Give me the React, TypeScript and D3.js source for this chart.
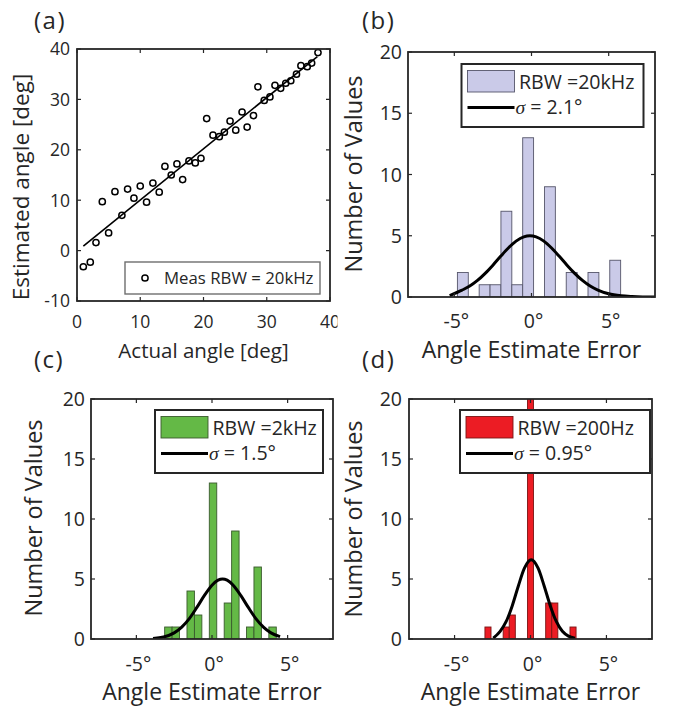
import React from 'react';
import * as d3 from 'd3';

const FONT = "'Open Sans', sans-serif";
const INK = '#262626';

// ---------- Panel (a): scatter ----------
const actualAngle = [1.0, 2.1, 3.0, 4.0, 5.0, 6.0, 7.1, 8.0, 9.0, 10.0, 11.0, 12.0, 13.0, 13.9, 14.9, 15.8, 16.7, 17.7, 18.7, 19.6, 20.5, 21.5, 22.5, 23.3, 24.2, 25.1, 26.1, 26.9, 27.9, 28.6, 29.6, 30.5, 31.3, 32.2, 33.0, 33.8, 34.7, 35.4, 36.4, 37.1, 38.1];
const estimatedAngle = [-3.2, -2.3, 1.6, 9.7, 3.5, 11.7, 7.0, 12.2, 10.4, 12.8, 9.6, 13.4, 11.6, 16.7, 15.0, 17.2, 14.1, 17.8, 17.4, 18.3, 26.2, 22.9, 22.6, 23.5, 25.7, 23.9, 27.5, 24.5, 26.8, 32.5, 29.8, 30.5, 32.8, 32.2, 33.2, 33.7, 35.0, 36.7, 36.5, 37.2, 39.3];
const fitActual = [1, 38];
const fitEstimated = [0.9, 38.5];
const scatterXTicks = [0, 10, 20, 30, 40];
const scatterYTicks = [-10, 0, 10, 20, 30, 40];
const scatterLegend = 'Meas RBW = 20kHz';

// ---------- Histograms ----------
const histXTicks = [-5, 0, 5];
const histXTickLabels = ['-5°', '0°', '5°'];
const histYTicks = [0, 5, 10, 15, 20];

const counts20kHz = [2, 0, 1, 1, 7, 1, 13, 0, 9, 0, 2, 0, 2, 0, 3];
const binStart20kHz = -4.8;
const binWidth20kHz = 0.705;
const fitX20kHz = [-5.3, -4.5, -4, -3.5, -3, -2.5, -2, -1.5, -1, -0.5, -0.1, 0.3, 0.8, 1.3, 1.8, 2.3, 2.8, 3.3, 3.8, 4.3, 5, 5.8, 6.5, 7.2, 8];
const fitY20kHz = [0.12, 0.56, 0.89, 1.35, 1.93, 2.6, 3.32, 4.0, 4.56, 4.91, 5.0, 4.91, 4.56, 4.0, 3.32, 2.6, 1.93, 1.35, 0.89, 0.56, 0.26, 0.1, 0.04, 0.01, 0.0];

const counts2kHz = [1, 1, 0, 4, 2, 0, 13, 0, 3, 9, 0, 1, 6, 0, 1];
const binStart2kHz = -3.13;
const binWidth2kHz = 0.492;
const fitX2kHz = [-3.9, -3.2, -2.5, -2, -1.5, -1, -0.5, 0, 0.4, 0.7, 1.0, 1.4, 1.9, 2.4, 2.9, 3.4, 3.9, 4.5];
const fitY2kHz = [0.05, 0.17, 0.51, 0.99, 1.7, 2.63, 3.63, 4.48, 4.9, 5.0, 4.9, 4.48, 3.63, 2.63, 1.7, 0.99, 0.51, 0.2];

const counts200Hz = [1, 0, 0, 1, 2, 0, 0, 30, 0, 0, 3, 3, 0, 0, 1];
const binStart200Hz = -3.0;
const binWidth200Hz = 0.4;
const fitX200Hz = [-2.45, -2, -1.6, -1.2, -0.8, -0.4, 0.05, 0.5, 0.9, 1.3, 1.7, 2.1, 2.5, 2.93];
const fitY200Hz = [0.08, 0.64, 1.46, 2.78, 4.42, 5.9, 6.6, 5.9, 4.42, 2.78, 1.46, 0.64, 0.24, 0.07];

const histSeries = [
  { key: 'b', label: '(b)', name: 'RBW =20kHz', sigma: '2.1°', counts: counts20kHz, start: binStart20kHz, width: binWidth20kHz, fx: fitX20kHz, fy: fitY20kHz, fill: '#cacae8', edge: '#55556a' },
  { key: 'c', label: '(c)', name: 'RBW =2kHz', sigma: '1.5°', counts: counts2kHz, start: binStart2kHz, width: binWidth2kHz, fx: fitX2kHz, fy: fitY2kHz, fill: '#64b946', edge: '#3a5a2e' },
  { key: 'd', label: '(d)', name: 'RBW =200Hz', sigma: '0.95°', counts: counts200Hz, start: binStart200Hz, width: binWidth200Hz, fx: fitX200Hz, fy: fitY200Hz, fill: '#ec1c24', edge: '#7a1414' },
];

// layout
const layoutHist: Record<string, any> = {
  b: { x0: 408, x1: 655, y0: 52, y1: 297, tickLblX: 402, xLblY: 328, yTitleX: 362, yTitleY: 174, xTitleY: 358, lblX: 362, lblY: 29,
       leg: { x: 461.5, y: 64, w: 182, h: 63 } },
  c: { x0: 91, x1: 333, y0: 399, y1: 639, tickLblX: 85, xLblY: 671, yTitleX: 42, yTitleY: 518, xTitleY: 700, lblX: 34, lblY: 368,
       leg: { x: 155, y: 410, w: 168, h: 63 } },
  d: { x0: 409, x1: 652, y0: 399, y1: 639, tickLblX: 402, xLblY: 671, yTitleX: 362, yTitleY: 519, xTitleY: 700, lblX: 362, lblY: 368,
       leg: { x: 460, y: 410, w: 190, h: 63 } },
};

function Frame({ x0, x1, y0, y1, xs, ys, xTicks, yTicks }: any) {
  const t = 4;
  return (
    <g>
      {xTicks.map((v: number) => (
        <g key={'x' + v}>
          <line x1={xs(v)} x2={xs(v)} y1={y1} y2={y1 - t} stroke={INK} strokeWidth={1.2} />
          <line x1={xs(v)} x2={xs(v)} y1={y0} y2={y0 + t} stroke={INK} strokeWidth={1.2} />
        </g>
      ))}
      {yTicks.map((v: number) => (
        <g key={'y' + v}>
          <line x1={x0} x2={x0 + t} y1={ys(v)} y2={ys(v)} stroke={INK} strokeWidth={1.2} />
          <line x1={x1} x2={x1 - t} y1={ys(v)} y2={ys(v)} stroke={INK} strokeWidth={1.2} />
        </g>
      ))}
      <rect x={x0} y={y0} width={x1 - x0} height={y1 - y0} fill="none" stroke={INK} strokeWidth={1.8} />
    </g>
  );
}

function ScatterPanel() {
  const x0 = 77, x1 = 330, y0 = 49, y1 = 301;
  const xs = d3.scaleLinear().domain([0, 40]).range([x0, x1]);
  const ys = d3.scaleLinear().domain([-10, 40]).range([y1, y0]);
  const fitLine = d3.line<number>().x((d, i) => xs(fitActual[i])).y((d) => ys(d))(fitEstimated) || '';
  return (
    <g clipPath="url(#clipA)">
      <text x={34} y={29} fontSize={24} fontFamily={FONT} fill={INK} letterSpacing={1.5}>(a)</text>
      <rect x={x0} y={y0} width={x1 - x0} height={y1 - y0} fill="#fff" />
      <path d={fitLine} stroke="#000" strokeWidth={1.6} fill="none" />
      {actualAngle.map((a, i) => (
        <circle key={i} cx={xs(a)} cy={ys(estimatedAngle[i])} r={3.1} fill="none" stroke="#000" strokeWidth={1.5} />
      ))}
      <Frame x0={x0} x1={x1} y0={y0} y1={y1} xs={xs} ys={ys} xTicks={scatterXTicks} yTicks={scatterYTicks} />
      {scatterXTicks.map((v) => (
        <text key={v} x={xs(v)} y={328} textAnchor="middle" fontSize={17.5} fontFamily={FONT} fill={INK}>{v}</text>
      ))}
      {scatterYTicks.map((v) => (
        <text key={v} x={70} y={ys(v)} dy="0.36em" textAnchor="end" fontSize={17.5} fontFamily={FONT} fill={INK}>{v}</text>
      ))}
      <text x={(x0 + x1) / 2} y={358} textAnchor="middle" fontSize={20.5} fontFamily={FONT} fill={INK}>Actual angle [deg]</text>
      <text transform="translate(29,187) rotate(-90)" textAnchor="middle" fontSize={22.5} fontFamily={FONT} fill={INK}>Estimated angle [deg]</text>
      <rect x={125} y={262} width={195} height={32} fill="#fff" stroke="#6e6e6e" strokeWidth={1.4} />
      <circle cx={145} cy={278} r={3.1} fill="none" stroke="#000" strokeWidth={1.5} />
      <text x={164} y={284} fontSize={16.8} fontFamily={FONT} fill={INK}>{scatterLegend}</text>
    </g>
  );
}

function HistPanel({ s }: any) {
  const L = layoutHist[s.key];
  const { x0, x1, y0, y1 } = L;
  const xs = d3.scaleLinear().domain([-8, 8]).range([x0, x1]);
  const ys = d3.scaleLinear().domain([0, 20]).range([y1, y0]);
  const curve = d3.line<number>().x((d, i) => xs(s.fx[i])).y((d) => ys(d)).curve(d3.curveMonotoneX)(s.fy) || '';
  const leg = L.leg;
  return (
    <g>
      <defs>
        <clipPath id={'clip' + s.key}>
          <rect x={x0} y={y0} width={x1 - x0} height={y1 - y0} />
        </clipPath>
      </defs>
      <text x={L.lblX} y={L.lblY} fontSize={24} fontFamily={FONT} fill={INK} letterSpacing={1.5}>{s.label}</text>
      <g clipPath={`url(#clip${s.key})`}>
        {s.counts.map((c: number, i: number) =>
          c > 0 ? (
            <rect key={i} x={xs(s.start + i * s.width)} width={xs(s.start + (i + 1) * s.width) - xs(s.start + i * s.width)}
              y={ys(c)} height={ys(0) - ys(c)} fill={s.fill} stroke={s.edge} strokeWidth={0.9} />
          ) : null
        )}
        <path d={curve} fill="none" stroke="#000" strokeWidth={3} strokeLinejoin="round" />
      </g>
      <Frame x0={x0} x1={x1} y0={y0} y1={y1} xs={xs} ys={ys} xTicks={histXTicks} yTicks={histYTicks} />
      {histXTicks.map((v, i) => (
        <text key={v} x={xs(v) + 2} y={L.xLblY} textAnchor="middle" fontSize={19.5} fontFamily={FONT} fill={INK}>{histXTickLabels[i]}</text>
      ))}
      {histYTicks.map((v) => (
        <text key={v} x={L.tickLblX} y={ys(v)} dy="0.36em" textAnchor="end" fontSize={19.5} fontFamily={FONT} fill={INK}>{v}</text>
      ))}
      <text x={(x0 + x1) / 2} y={L.xTitleY} textAnchor="middle" fontSize={23} fontFamily={FONT} fill={INK}>Angle Estimate Error</text>
      <text transform={`translate(${L.yTitleX},${L.yTitleY}) rotate(-90)`} textAnchor="middle" fontSize={23.5} fontFamily={FONT} fill={INK}>Number of Values</text>
      <rect x={leg.x} y={leg.y} width={leg.w} height={leg.h} fill="#fff" stroke={INK} strokeWidth={2} />
      <rect x={leg.x + 6} y={leg.y + 6.5} width={47} height={21.5} fill={s.fill} stroke={s.edge} strokeWidth={0.9} />
      <text x={leg.x + 57.5} y={leg.y + 24.5} fontSize={19.6} fontFamily={FONT} fill={INK}>{s.name}</text>
      <line x1={leg.x + 6} x2={leg.x + 53} y1={leg.y + 43.5} y2={leg.y + 43.5} stroke="#000" strokeWidth={3} />
      <text x={leg.x + 54} y={leg.y + 50} fontSize={19.6} fontFamily={FONT} fill={INK}>
        <tspan fontFamily="'Liberation Serif', serif" fontStyle="italic">σ</tspan>
        <tspan> = {s.sigma}</tspan>
      </text>
    </g>
  );
}

export default function App() {
  return (
    <svg width={677} height={710} style={{ position: 'absolute', left: 0, top: 0, background: '#fff' }}>
      <defs>
        <clipPath id="clipA">
          <rect x={0} y={0} width={337.5} height={710} />
        </clipPath>
      </defs>
      <rect x={0} y={0} width={677} height={710} fill="#fff" />
      <ScatterPanel />
      {histSeries.map((s) => (
        <HistPanel key={s.key} s={s} />
      ))}
    </svg>
  );
}
